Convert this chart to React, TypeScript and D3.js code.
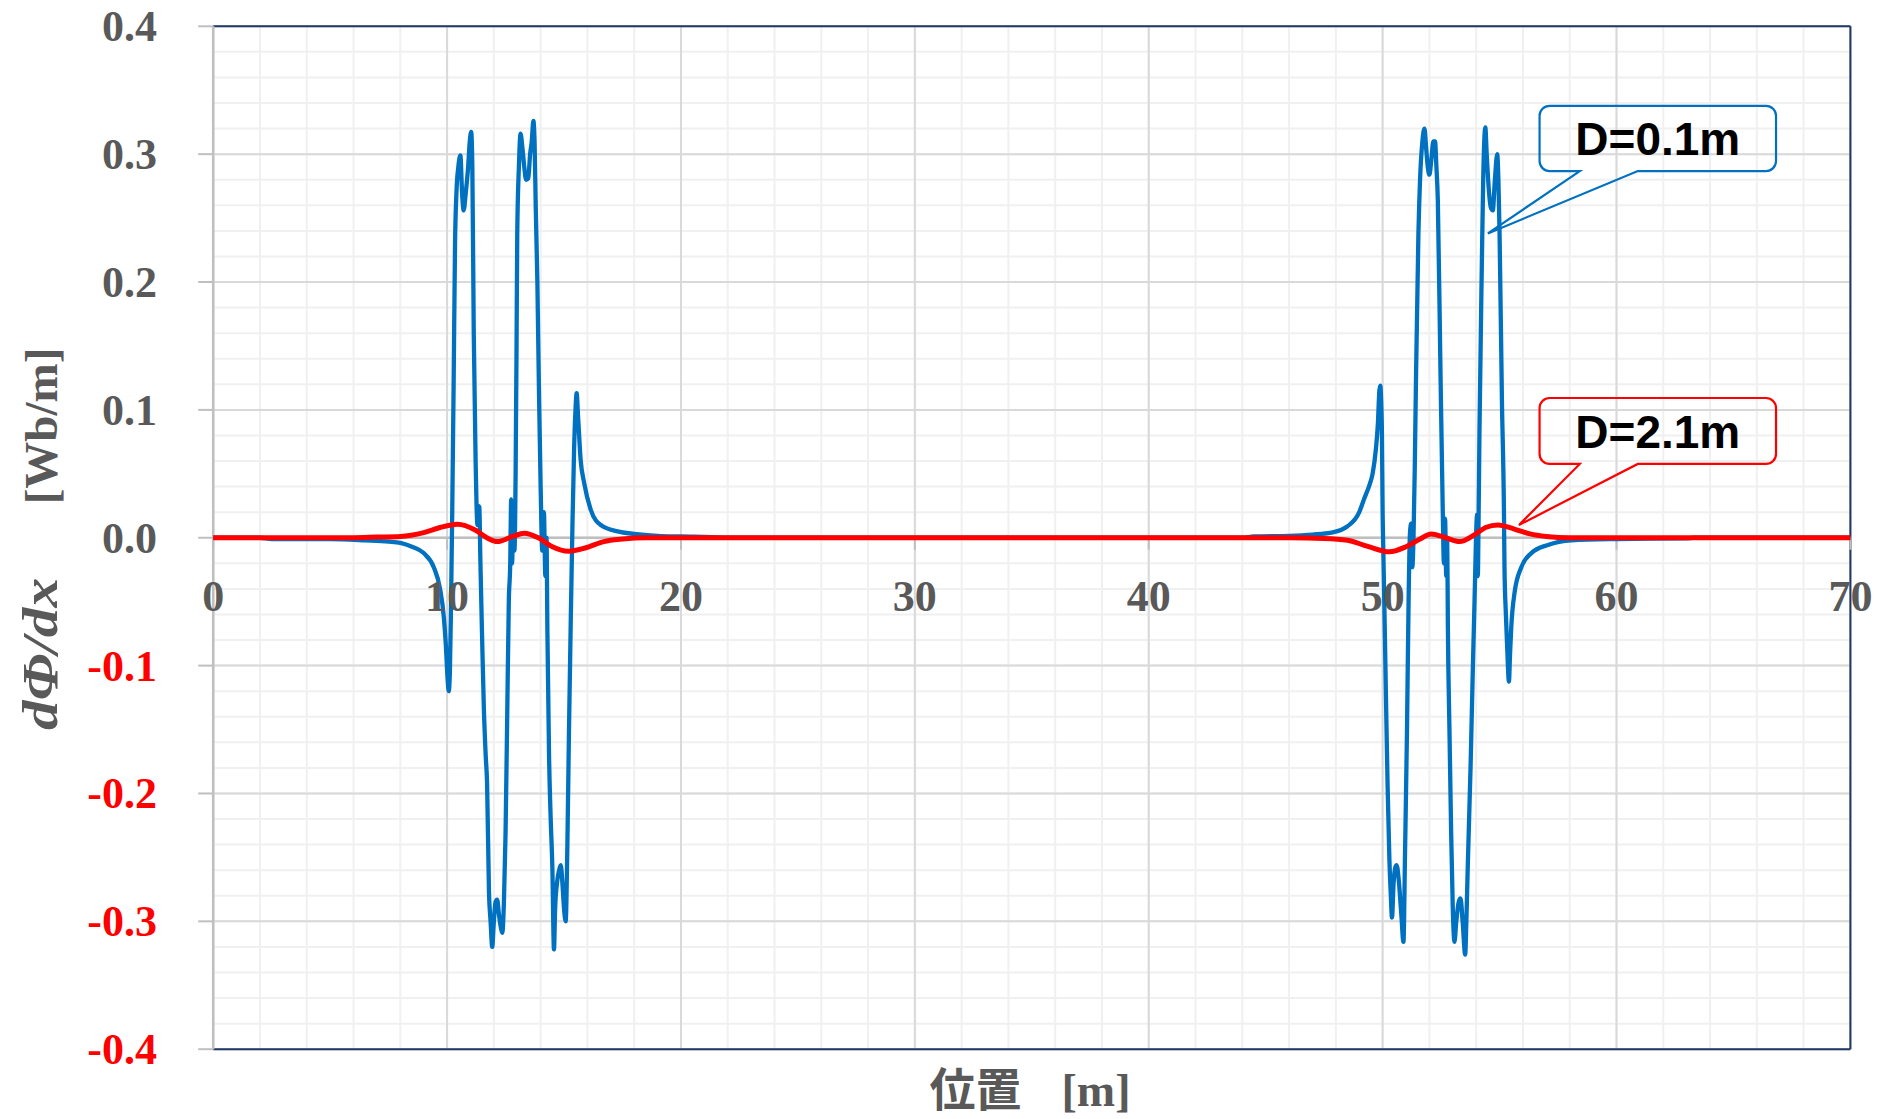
import React from "react";
import * as d3 from "d3";

const W = 1878;
const H = 1119;
const PL = 213.2, PR = 1850.4, PT = 26.3, PB = 1049.2;

const xTicks = [0, 10, 20, 30, 40, 50, 60, 70];
const xTickLabels = ["0", "10", "20", "30", "40", "50", "60", "70"];
const yTicks = [0.4, 0.3, 0.2, 0.1, 0, -0.1, -0.2, -0.3, -0.4];
const yTickLabels = ["0.4", "0.3", "0.2", "0.1", "0.0", "-0.1", "-0.2", "-0.3", "-0.4"];
const xMinor = d3.range(0, 70.001, 2);
const yMinor = d3.range(-0.4, 0.4001, 0.02);

// D=0.1m
const blueX = [0, 2, 2.5, 5, 6.5, 7.5, 8, 8.5, 9, 9.43, 9.7, 9.86, 9.95, 10.02, 10.07, 10.12, 10.17, 10.22, 10.28, 10.34, 10.4, 10.48, 10.57, 10.64, 10.71, 10.8, 10.9, 10.97, 11.03, 11.08, 11.14, 11.22, 11.3, 11.34, 11.38, 11.42, 11.5, 11.57, 11.65, 11.71, 11.79, 11.86, 11.93, 12.0, 12.07, 12.14, 12.22, 12.3, 12.36, 12.43, 12.5, 12.57, 12.64, 12.7, 12.74, 12.78, 12.83, 12.88, 12.93, 12.97, 13.0, 13.07, 13.14, 13.22, 13.3, 13.38, 13.47, 13.55, 13.62, 13.69, 13.74, 13.79, 13.86, 13.93, 14.0, 14.07, 14.14, 14.2, 14.25, 14.29, 14.36, 14.43, 14.5, 14.57, 14.62, 14.7, 14.79, 14.86, 14.93, 15.0, 15.07, 15.14, 15.21, 15.29, 15.36, 15.43, 15.49, 15.54, 15.6, 15.71, 15.86, 16.14, 16.57, 17.29, 18, 19, 20, 21.3, 22,
  44, 44.5, 46, 47, 47.8, 48.5, 49.0, 49.2, 49.45, 49.57, 49.71, 49.8, 49.86, 49.9, 49.94, 49.97, 50.0, 50.03, 50.07, 50.14, 50.21, 50.29, 50.35, 50.4, 50.47, 50.54, 50.6, 50.7, 50.8, 50.89, 50.96, 51.04, 51.11, 51.17, 51.22, 51.27, 51.32, 51.37, 51.43, 51.53, 51.6, 51.7, 51.79, 51.86, 51.93, 52.0, 52.08, 52.17, 52.24, 52.3, 52.36, 52.47, 52.57, 52.62, 52.67, 52.72, 52.76, 52.79, 52.86, 52.93, 53.0, 53.07, 53.15, 53.25, 53.33, 53.42, 53.53, 53.58, 53.64, 53.76, 53.86, 53.93, 53.98, 54.0, 54.04, 54.07, 54.1, 54.14, 54.24, 54.3, 54.39, 54.45, 54.55, 54.63, 54.71, 54.8, 54.9, 54.95, 55.0, 55.1, 55.19, 55.21, 55.27, 55.33, 55.4, 55.45, 55.5, 55.64, 55.93, 56.36, 57.07, 58.07, 60, 63, 63.3, 70];
const blueY = [0, 0, -0.001, -0.001, -0.002, -0.003, -0.004, -0.007, -0.012, -0.023, -0.04, -0.062, -0.085, -0.11, -0.12, -0.105, -0.05, 0.02, 0.12, 0.23, 0.27, 0.29, 0.299, 0.27, 0.256, 0.27, 0.29, 0.31, 0.3175, 0.29, 0.16, 0.06, 0.01, 0.025, 0.024, -0.015, -0.08, -0.132, -0.17, -0.192, -0.276, -0.3, -0.32, -0.3, -0.285, -0.283, -0.295, -0.305, -0.309, -0.285, -0.231, -0.14, -0.049, -0.02, 0.03, -0.02, 0.025, -0.01, 0.05, 0.15, 0.238, 0.29, 0.316, 0.305, 0.29, 0.28, 0.281, 0.3, 0.31, 0.326, 0.31, 0.259, 0.2, 0.113, 0.04, -0.01, 0.02, -0.03, 0.0, -0.075, -0.171, -0.22, -0.257, -0.322, -0.29, -0.27, -0.26, -0.256, -0.27, -0.29, -0.3, -0.244, -0.153, -0.062, 0.01, 0.069, 0.1, 0.113, 0.095, 0.061, 0.043, 0.022, 0.01, 0.005, 0.003, 0.0015, 0.001, 0.0005, 0,
  0, 0.001, 0.0015, 0.0025, 0.004, 0.009, 0.02, 0.03, 0.042, 0.05, 0.069, 0.09, 0.115, 0.119, 0.105, 0.082, 0.02, -0.01, -0.049, -0.122, -0.192, -0.252, -0.28, -0.297, -0.27, -0.258, -0.256, -0.27, -0.295, -0.316, -0.244, -0.153, -0.049, 0.004, 0.011, -0.023, 0.0, 0.05, 0.129, 0.238, 0.28, 0.31, 0.32, 0.305, 0.29, 0.284, 0.295, 0.31, 0.31, 0.29, 0.264, 0.134, 0.022, -0.02, 0.015, -0.03, 0.0, -0.07, -0.153, -0.231, -0.29, -0.316, -0.3, -0.285, -0.282, -0.3, -0.326, -0.3, -0.257, -0.179, -0.1, -0.049, -0.01, 0.004, 0.018, -0.03, 0.01, 0.082, 0.212, 0.28, 0.321, 0.3, 0.27, 0.258, 0.256, 0.28, 0.3, 0.28, 0.238, 0.108, 0.016, -0.023, -0.06, -0.088, -0.1125, -0.09, -0.07, -0.043, -0.023, -0.012, -0.0056, -0.002, -0.001, -0.0005, 0, 0];

// D=2.1m
const redX = [0, 6, 7, 8, 9, 9.7, 10.45, 11.2, 11.7, 12.15, 12.8, 13.3, 13.9, 14.5, 15.19, 15.9, 16.7, 17.5, 18.5, 46, 47.5, 48.5, 49.4, 50.29, 51.0, 51.6, 52.07, 52.7, 53.29, 53.9, 54.4, 54.93, 55.6, 56.3, 57, 58, 70];
const redY = [0, 0, 0.0005, 0.001, 0.004, 0.008, 0.0105, 0.006, 0.0, -0.003, 0.001, 0.0035, 0.0, -0.007, -0.0105, -0.008, -0.003, -0.001, 0, 0, -0.0005, -0.002, -0.007, -0.011, -0.007, -0.001, 0.003, 0.0, -0.003, 0.002, 0.008, 0.010, 0.007, 0.003, 0.001, 0, 0];

const calloutText = ["D=0.1m", "D=2.1m"];
const calloutColor = ["#0070C0", "#FF0000"];
const calloutX0 = [56.71, 56.71];
const calloutX1 = [66.82, 66.82];
const calloutTop = [0.3378, 0.1093];
const calloutBottom = [0.2868, 0.0577];
const calloutBase1 = [58.43, 58.43];
const calloutBase2 = [60.91, 60.91];
const calloutTipX = [54.5, 55.83];
const calloutTipY = [0.238, 0.010];

const SERIF = "'Liberation Serif', 'Times New Roman', serif";
const GRAY = "#595959";

export default function App() {
  const x = d3.scaleLinear().domain([0, 70]).range([PL, PR]);
  const y = d3.scaleLinear().domain([-0.4, 0.4]).range([PB, PT]);
  const line = d3.line<number>().curve(d3.curveMonotoneX);
  const bluePts: [number, number][] = blueX.map((v, i) => [x(v), y(blueY[i])]);
  const redPts: [number, number][] = redX.map((v, i) => [x(v), y(redY[i])]);
  const r = 10;

  return (
    <svg width={W} height={H} style={{ position: "absolute", left: 0, top: 0, background: "#fff" }}>
      <rect x={0} y={0} width={W} height={H} fill="#fff" />
      {xMinor.map((v, i) => (
        <line key={"xm" + i} x1={x(v)} x2={x(v)} y1={PT} y2={PB} stroke="#f0f0f0" strokeWidth={2} />
      ))}
      {yMinor.map((v, i) => (
        <line key={"ym" + i} x1={PL} x2={PR} y1={y(v)} y2={y(v)} stroke="#f0f0f0" strokeWidth={2} />
      ))}
      {xTicks.map((v, i) => (
        <line key={"xg" + i} x1={x(v)} x2={x(v)} y1={PT} y2={PB} stroke="#d9d9d9" strokeWidth={2} />
      ))}
      {yTicks.map((v, i) => (
        <line key={"yg" + i} x1={PL} x2={PR} y1={y(v)} y2={y(v)} stroke="#d9d9d9" strokeWidth={2} />
      ))}
      <line x1={PL} x2={PR} y1={PT} y2={PT} stroke="#1F3864" strokeWidth={2} />
      <line x1={PL} x2={PR} y1={PB} y2={PB} stroke="#1F3864" strokeWidth={2} />
      <line x1={PR} x2={PR} y1={PT} y2={PB} stroke="#1F3864" strokeWidth={2} />
      <line x1={PL} x2={PL} y1={PT} y2={PB} stroke="#bfbfbf" strokeWidth={2.5} />
      {yTicks.map((v, i) => (
        <line key={"yt" + i} x1={PL - 15} x2={PL} y1={y(v)} y2={y(v)} stroke="#bfbfbf" strokeWidth={2} />
      ))}
      <line x1={PL} x2={PR} y1={y(0)} y2={y(0)} stroke="#bfbfbf" strokeWidth={2.5} />
      {xTicks.map((v, i) => (
        <line key={"xt" + i} x1={x(v)} x2={x(v)} y1={y(0)} y2={y(0) + 12} stroke="#bfbfbf" strokeWidth={2} />
      ))}
      <path d={line(bluePts) || ""} fill="none" stroke="#0070C0" strokeWidth={4.3} strokeLinejoin="round" />
      <path d={line(redPts) || ""} fill="none" stroke="#FF0000" strokeWidth={5} strokeLinejoin="round" />
      {yTicks.map((v, i) => (
        <text key={"yl" + i} x={157} y={y(v) + 15} textAnchor="end" fontFamily={SERIF} fontWeight="bold" fontSize={44}
          fill={v < 0 ? "#FF0000" : GRAY}>{yTickLabels[i]}</text>
      ))}
      {xTicks.map((v, i) => (
        <text key={"xl" + i} x={x(v)} y={y(0) + 73} textAnchor="middle" fontFamily={SERIF} fontWeight="bold" fontSize={44}
          fill={GRAY}>{xTickLabels[i]}</text>
      ))}
      <text transform={`translate(57, 654) rotate(-90)`} textAnchor="middle" fontFamily={SERIF} fontWeight="bold"
        fontStyle="italic" fontSize={50} fill={GRAY} textLength={152} lengthAdjust="spacingAndGlyphs">dΦ/dx</text>
      <text transform={`translate(57, 426) rotate(-90)`} textAnchor="middle" fontFamily={SERIF} fontWeight="bold"
        fontSize={47} fill={GRAY}>[Wb/m]</text>
      <text x={1030} y={1106} textAnchor="middle" fontWeight="bold" fontSize={46} fill={GRAY}>
        <tspan fontFamily="'Noto Sans CJK JP', sans-serif">位置</tspan>
        <tspan dx={40} fontFamily={SERIF}>[m]</tspan>
      </text>
      {calloutText.map((t, i) => {
        const x0 = x(calloutX0[i]), x1 = x(calloutX1[i]);
        const y0 = y(calloutTop[i]), y1 = y(calloutBottom[i]);
        const b1 = x(calloutBase1[i]), b2 = x(calloutBase2[i]);
        const tx = x(calloutTipX[i]), ty = y(calloutTipY[i]);
        const d = `M${x0 + r},${y0} H${x1 - r} A${r},${r} 0 0 1 ${x1},${y0 + r} V${y1 - r} A${r},${r} 0 0 1 ${x1 - r},${y1} H${b2} L${tx},${ty} L${b1},${y1} H${x0 + r} A${r},${r} 0 0 1 ${x0},${y1 - r} V${y0 + r} A${r},${r} 0 0 1 ${x0 + r},${y0} Z`;
        return (
          <g key={"c" + i}>
            <path d={d} fill="none" stroke={calloutColor[i]} strokeWidth={2.2} />
            <text x={(x0 + x1) / 2} y={(y0 + y1) / 2 + 17} textAnchor="middle" fontFamily="'Liberation Sans', Arial, sans-serif"
              fontWeight="bold" fontSize={46} fill="#000">{t}</text>
          </g>
        );
      })}
    </svg>
  );
}
